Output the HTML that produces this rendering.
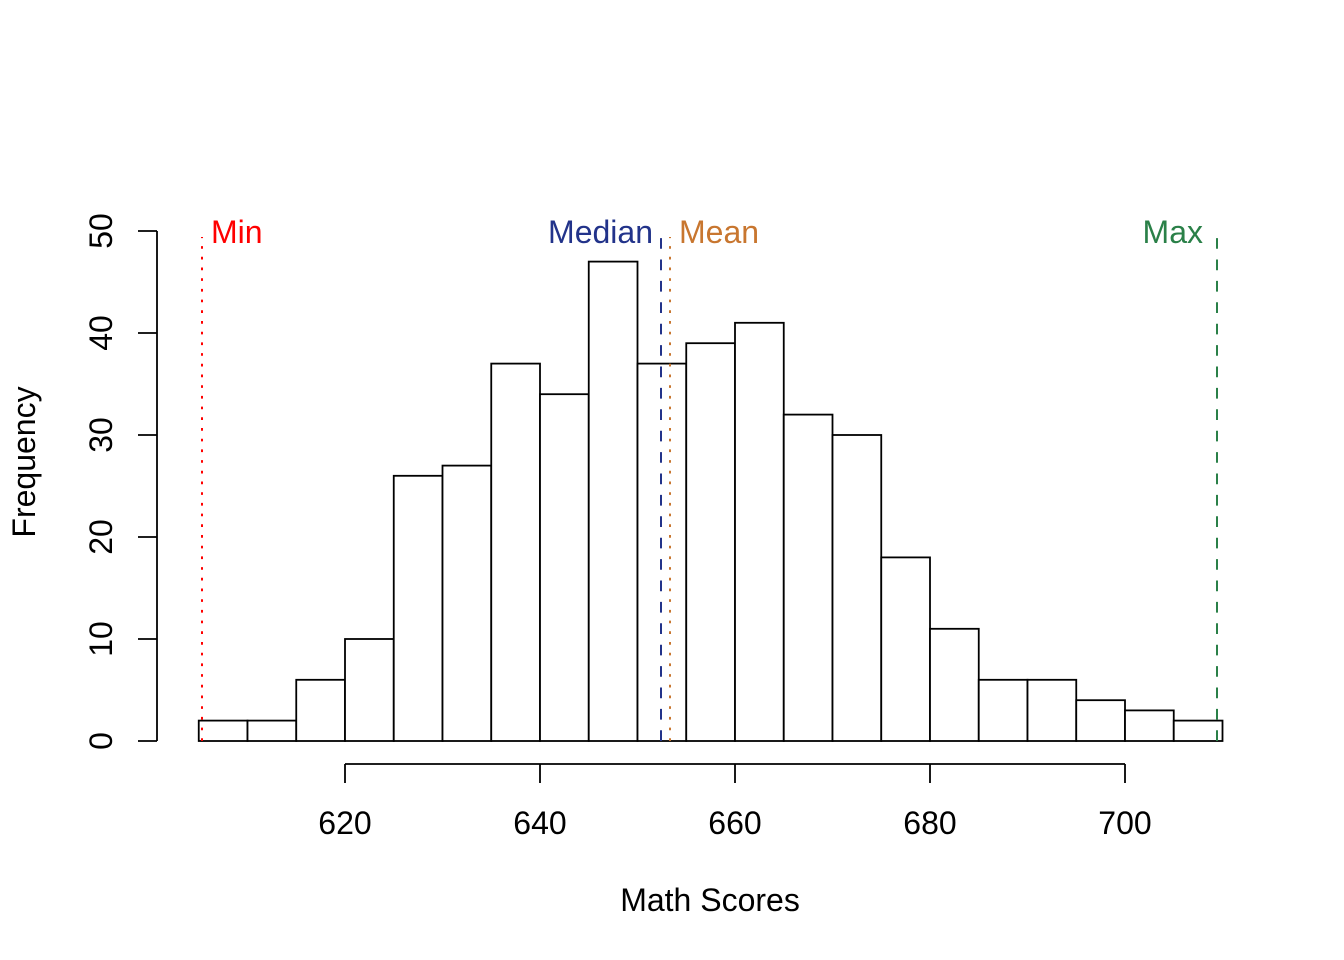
<!DOCTYPE html>
<html><head><meta charset="utf-8"><style>
html,body{margin:0;padding:0;background:#fff;}
svg{display:block;}
text{font-family:"Liberation Sans",Arial,sans-serif;}
</style></head><body>
<svg width="1344" height="960" viewBox="0 0 1344 960" xmlns="http://www.w3.org/2000/svg">
<rect width="1344" height="960" fill="#fff"/>
<g fill="#fff" stroke="#000" stroke-width="1.8">
<rect x="198.75" y="720.6" width="48.75" height="20.4"/>
<rect x="247.5" y="720.6" width="48.75" height="20.4"/>
<rect x="296.25" y="679.8" width="48.75" height="61.2"/>
<rect x="345" y="639" width="48.75" height="102"/>
<rect x="393.75" y="475.8" width="48.75" height="265.2"/>
<rect x="442.5" y="465.6" width="48.75" height="275.4"/>
<rect x="491.25" y="363.6" width="48.75" height="377.4"/>
<rect x="540" y="394.2" width="48.75" height="346.8"/>
<rect x="588.75" y="261.6" width="48.75" height="479.4"/>
<rect x="637.5" y="363.6" width="48.75" height="377.4"/>
<rect x="686.25" y="343.2" width="48.75" height="397.8"/>
<rect x="735" y="322.8" width="48.75" height="418.2"/>
<rect x="783.75" y="414.6" width="48.75" height="326.4"/>
<rect x="832.5" y="435" width="48.75" height="306"/>
<rect x="881.25" y="557.4" width="48.75" height="183.6"/>
<rect x="930" y="628.8" width="48.75" height="112.2"/>
<rect x="978.75" y="679.8" width="48.75" height="61.2"/>
<rect x="1027.5" y="679.8" width="48.75" height="61.2"/>
<rect x="1076.25" y="700.2" width="48.75" height="40.8"/>
<rect x="1125" y="710.4" width="48.75" height="30.6"/>
<rect x="1173.75" y="720.6" width="48.75" height="20.4"/>
</g>
<!-- x axis -->
<g stroke="#000" stroke-width="1.8" fill="none">
<line x1="345" y1="764" x2="1125" y2="764"/>
<line x1="345" y1="764" x2="345" y2="783"/>
<line x1="540" y1="764" x2="540" y2="783"/>
<line x1="735" y1="764" x2="735" y2="783"/>
<line x1="930" y1="764" x2="930" y2="783"/>
<line x1="1125" y1="764" x2="1125" y2="783"/>
<!-- y axis -->
<line x1="157" y1="231" x2="157" y2="741"/>
<line x1="138" y1="741" x2="157" y2="741"/>
<line x1="138" y1="639" x2="157" y2="639"/>
<line x1="138" y1="537" x2="157" y2="537"/>
<line x1="138" y1="435" x2="157" y2="435"/>
<line x1="138" y1="333" x2="157" y2="333"/>
<line x1="138" y1="231" x2="157" y2="231"/>
</g>
<g font-size="32" fill="#000" text-anchor="middle">
<text x="345" y="834">620</text>
<text x="540" y="834">640</text>
<text x="735" y="834">660</text>
<text x="930" y="834">680</text>
<text x="1125" y="834">700</text>
<text transform="translate(112,741) rotate(-90)">0</text>
<text transform="translate(112,639) rotate(-90)">10</text>
<text transform="translate(112,537) rotate(-90)">20</text>
<text transform="translate(112,435) rotate(-90)">30</text>
<text transform="translate(112,333) rotate(-90)">40</text>
<text transform="translate(112,231) rotate(-90)">50</text>
<text x="710" y="911">Math Scores</text>
<text transform="translate(35,462) rotate(-90)">Frequency</text>
</g>
<!-- reference lines -->
<line x1="202" y1="741" x2="202" y2="237" stroke="#FF0000" stroke-width="2" stroke-dasharray="2.7,8"/>
<line x1="661" y1="741" x2="661" y2="238" stroke="#22338A" stroke-width="2" stroke-dasharray="10.7,10.7"/>
<line x1="670" y1="741" x2="670" y2="237" stroke="#C8762F" stroke-width="2" stroke-dasharray="2.7,8"/>
<line x1="1217" y1="741" x2="1217" y2="238" stroke="#2A8048" stroke-width="2" stroke-dasharray="10.7,10.7"/>
<g font-size="32">
<text x="211" y="243" fill="#FF0000">Min</text>
<text x="653" y="243" fill="#22338A" text-anchor="end">Median</text>
<text x="679" y="243" fill="#C8762F">Mean</text>
<text x="1203" y="243" fill="#2A8048" text-anchor="end">Max</text>
</g>
</svg>
</body></html>
